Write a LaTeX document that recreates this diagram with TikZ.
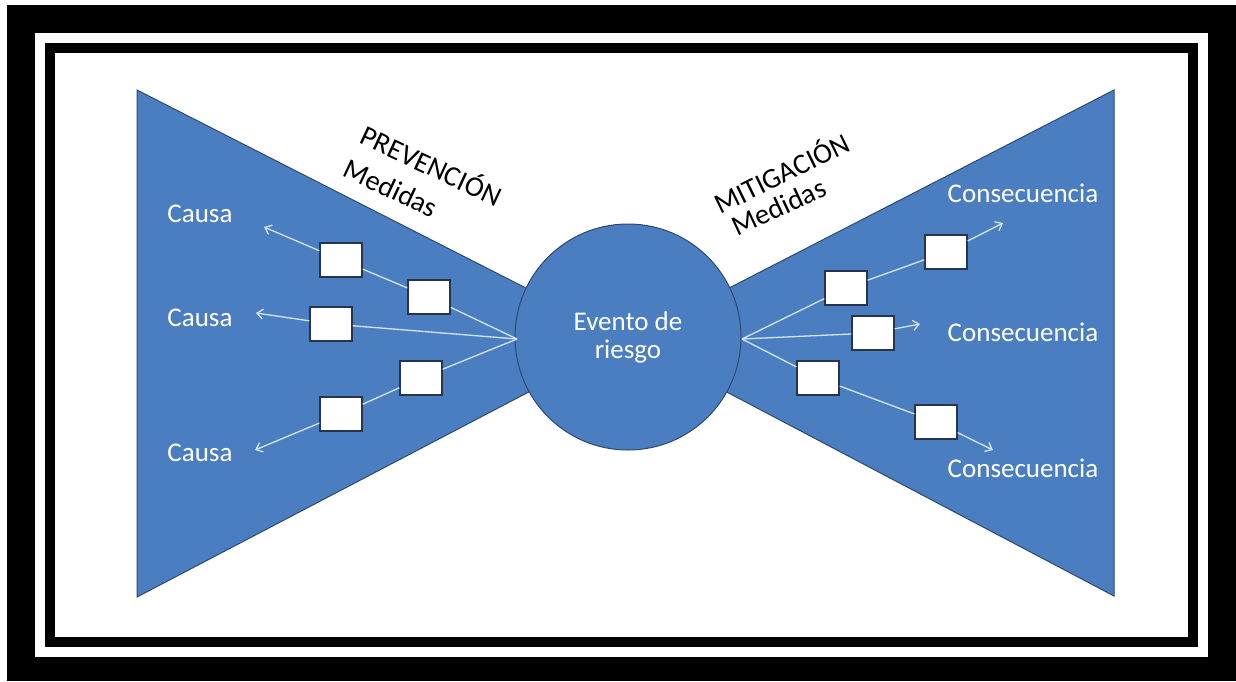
\documentclass[tikz,border=0pt]{standalone}
\usepackage{fontspec}
\setmainfont{Carlito}
\usetikzlibrary{arrows.meta}
\definecolor{bowblue}{RGB}{74,126,192}
\definecolor{bowedge}{RGB}{44,74,112}
\definecolor{boxedge}{RGB}{38,52,76}
\definecolor{linkcol}{RGB}{212,228,246}
\begin{document}
\begin{tikzpicture}[x=1pt,y=-1pt,
  box/.style={draw=boxedge, fill=white, line width=1.4pt, minimum width=42pt, minimum height=34pt, inner sep=0pt},
  lbl/.style={text=white, font=\fontsize{27}{29}\selectfont, inner sep=0pt},
  rlbl/.style={text=black, font=\fontsize{28.5}{30}\selectfont, inner sep=0pt},
  link/.style={draw=linkcol, line width=1.3pt},
  arr/.style={link, -{Straight Barb[length=6pt,width=10pt]}},
  bow/.style={fill=bowblue, draw=bowedge, line width=1pt}]
% frames
\useasboundingbox (0,0) rectangle (1236,681);
\fill[white] (0,0) rectangle (1236,681);
\fill[black] (7,5) rectangle (1236,681);
\fill[white] (35,33) rectangle (1208,657);
\fill[black] (45,43) rectangle (1198,647);
\fill[white] (55,53) rectangle (1188,637);
% bow tie
\coordinate (apex) at (628,340);
\draw[bow] (137,90) -- (137,597) -- (apex) -- cycle;
\draw[bow] (1114,90) -- (1114,596) -- (apex) -- cycle;
\node[circle, bow, minimum size=226pt, inner sep=0pt, align=center, text=white,
      font=\fontsize{27}{28}\selectfont] (ev) at (628,337) {Evento de\\riesgo};
% measure headings
\node[rlbl, rotate=-25] (prevT) at (432,164) {PREVENCIÓN};
\node[rlbl, rotate=-25] (prevM) at (391,188) {Medidas};
\node[rlbl, rotate=26] (mitT) at (781,172) {MITIGACIÓN};
\node[rlbl, rotate=25] (mitM) at (779,207) {Medidas};
% labels
\node[lbl] (ca1) at (200,214) {Causa};
\node[lbl] (ca2) at (200,318) {Causa};
\node[lbl] (ca3) at (200,453) {Causa};
\node[lbl] (co1) at (1023,193) {Consecuencia};
\node[lbl] (co2) at (1023,332) {Consecuencia};
\node[lbl] (co3) at (1023,468) {Consecuencia};
% barrier boxes
\node[box] (A) at (341,260) {};
\node[box] (B) at (429,297) {};
\node[box] (C) at (331,324) {};
\node[box] (D) at (421,378) {};
\node[box] (E) at (341,414) {};
\node[box] (F) at (946,252) {};
\node[box] (G) at (846,288) {};
\node[box] (H) at (873,333) {};
\node[box] (I) at (818,378) {};
\node[box] (J) at (936,422) {};
% connector points
\coordinate (fl) at (517,339);
\coordinate (fr) at (742,339);
\coordinate (a1) at (264,227);
\coordinate (a2) at (256,313);
\coordinate (a3) at (255,450);
\coordinate (c1) at (1003,223);
\coordinate (c2) at (920,324);
\coordinate (c3) at (993,450);
% left connectors
\draw[link] (fl) -- (B);
\draw[link] (B) -- (A);
\draw[arr] (A) -- (a1);
\draw[link] (fl) -- (C);
\draw[arr] (C) -- (a2);
\draw[link] (fl) -- (D);
\draw[link] (D) -- (E);
\draw[arr] (E) -- (a3);
% right connectors
\draw[link] (fr) -- (G);
\draw[link] (G) -- (F);
\draw[arr] (F) -- (c1);
\draw[link] (fr) -- (H);
\draw[arr] (H) -- (c2);
\draw[link] (fr) -- (I);
\draw[link] (I) -- (J);
\draw[arr] (J) -- (c3);
\end{tikzpicture}
\end{document}
